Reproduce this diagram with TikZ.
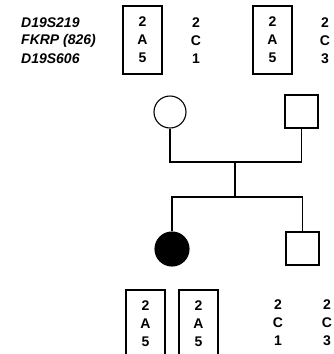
\documentclass[tikz,border=0pt]{standalone}
\usepackage{fontspec}
\setmainfont{Liberation Sans}
\begin{document}
\begin{tikzpicture}[x=1pt,y=-1pt,
  allele/.style={align=center,inner sep=0pt,font=\fontsize{14}{18}\selectfont\bfseries},
  hapbox/.style={allele,draw,line width=1.1pt,minimum width=39pt,minimum height=68pt},
  lbl/.style={anchor=west,inner sep=0pt,font=\fontsize{14}{18}\selectfont\bfseries\itshape},
  female/.style={circle,draw,line width=1.1pt,minimum size=32pt,inner sep=0pt},
  male/.style={rectangle,draw,line width=1.1pt,minimum size=33pt,inner sep=0pt},
  link/.style={line width=1.1pt}]
\useasboundingbox (0,0) rectangle (333,354);
% marker labels
\node[lbl] (l1) at (21,23) {D19S219};
\node[lbl] (l2) at (21,41) {FKRP (826)};
\node[lbl] (l3) at (21,59) {D19S606};
% parents' haplotypes
\node[hapbox] (m1) at (142.5,40) {2\\A\\5};
\node[allele] (m2) at (196,41) {2\\C\\1};
\node[hapbox] (f1) at (272.5,40) {2\\A\\5};
\node[allele] (f2) at (325,41) {2\\C\\3};
% pedigree
\node[female] (mother) at (170,112) {};
\node[male] (father) at (301.5,111.5) {};
\node[female,fill=black,minimum size=34pt] (daughter) at (172,249) {};
\node[male] (son) at (302.5,248.5) {};
\coordinate (mj) at (170,162);
\coordinate (fj) at (301.5,162);
\coordinate (mid) at (235,162);
\coordinate (sib) at (235,197);
\coordinate (dj) at (172,197);
\coordinate (sj) at (302.5,197);
\draw[link] (mother.south) -- (mj) -- (fj) -- (father.south);
\draw[link] (mid) -- (sib);
\draw[link] (daughter.north) -- (dj) -- (sj) -- (son.north);
% children's haplotypes
\node[hapbox] (d1) at (145.5,324) {2\\A\\5};
\node[hapbox] (d2) at (198.5,324) {2\\A\\5};
\node[allele] (s1) at (278,323) {2\\C\\1};
\node[allele] (s2) at (327,323) {2\\C\\3};
\end{tikzpicture}
\end{document}
